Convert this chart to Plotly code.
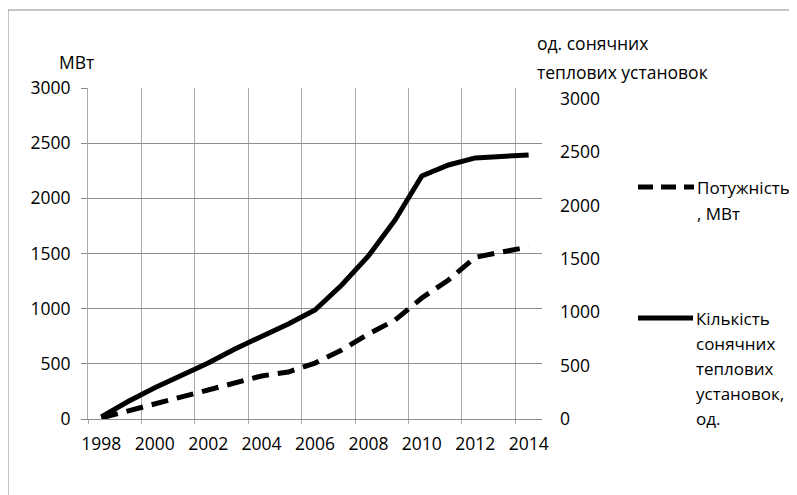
import plotly.graph_objects as go

years = list(range(1998, 2015))
power_mw = [10, 72, 145, 199, 263, 326, 390, 426, 507, 625, 770, 897, 1097, 1260, 1465, 1514, 1559]
installations = [20, 164, 293, 403, 524, 656, 768, 890, 1021, 1255, 1527, 1864, 2276, 2379, 2445, 2463, 2473]
x_labels = [str(y) for y in range(1998, 2015, 2)]
y_ticks = list(range(0, 3001, 500))

OFF = 8  # default page body margin
W, H = 797 - OFF, 495 - OFF
L, R, T, B = 88, 542, 88, 419
FONT = "Open Sans"
FS = 17.5
TXT = "#000000"


def px(x):
    return (x - L) / (R - L)


def py(y):
    return (B - y) / (B - T)


fig = go.Figure()
fig.add_trace(go.Scatter(x=years, y=power_mw, mode="lines", name="Потужність, МВт",
                         line=dict(color="black", width=5, dash="17px,9px"), yaxis="y"))
fig.add_trace(go.Scatter(x=years, y=installations, mode="lines",
                         name="Кількість сонячних теплових установок, од.",
                         line=dict(color="black", width=5), yaxis="y2"))

shapes = [
    dict(type="rect", xref="paper", yref="paper", x0=px(8), x1=px(820), y0=py(520), y1=py(10),
         line=dict(color="#8c8c8c", width=1), fillcolor="rgba(0,0,0,0)", layer="below"),
    dict(type="line", xref="paper", yref="paper", x0=px(638), x1=px(694), y0=py(187), y1=py(187),
         line=dict(color="black", width=5, dash="15px,8px")),
    dict(type="line", xref="paper", yref="paper", x0=px(638), x1=px(693), y0=py(318), y1=py(318),
         line=dict(color="black", width=5)),
]

annotations = []


def text(s, x, y, size=FS, anchor="left"):
    annotations.append(dict(text=s, x=px(x), y=py(y), xref="paper", yref="paper",
                            xanchor=anchor, yanchor="middle", showarrow=False,
                            font=dict(family=FONT, size=size, color=TXT)))


text("МВт", 57, 62)
text("од. сонячних", 535, 43)
text("теплових установок", 535, 72)
text("Потужність", 695, 187, 17)
text(", МВт", 695, 213, 17)
for i, s in enumerate(["Кількість", "сонячних", "теплових", "установок,", "од."]):
    text(s, 694, 318 + i * 25, 17)

minor_vals = [y - 0.5 for y in range(1998, 2015, 2)]

fig.update_layout(
    width=W, height=H,
    margin=dict(l=L - OFF, r=797 - R, t=T - OFF, b=495 - B, pad=0),
    paper_bgcolor="white", plot_bgcolor="white",
    showlegend=False,
    font=dict(family=FONT, size=FS, color=TXT),
    xaxis=dict(range=[1997.5, 2014.5], tickmode="array", tickvals=[int(s) for s in x_labels],
               ticktext=x_labels, showgrid=False, ticks="", showline=True, linecolor="#8c8c8c",
               linewidth=1, zeroline=False, ticklabelstandoff=9,
               minor=dict(tickmode="array", tickvals=minor_vals, showgrid=True,
                          gridcolor="#a8a8a8", gridwidth=1, ticks="outside", ticklen=4,
                          tickcolor="#a8a8a8")),
    yaxis=dict(range=[0, 3000], tickmode="array", tickvals=y_ticks, showgrid=True,
               gridcolor="#8c8c8c", gridwidth=1, ticks="outside", ticklen=6, tickcolor="#8c8c8c",
               showline=True, linecolor="#a8a8a8", zeroline=False, ticklabelstandoff=7),
    yaxis2=dict(range=[0, 3100], overlaying="y", side="right", tickmode="array",
                tickvals=y_ticks, showgrid=False, showline=False, ticks="", zeroline=False,
                ticklabelstandoff=17),
    shapes=shapes,
    annotations=annotations,
)

fig.write_html("out.html")
